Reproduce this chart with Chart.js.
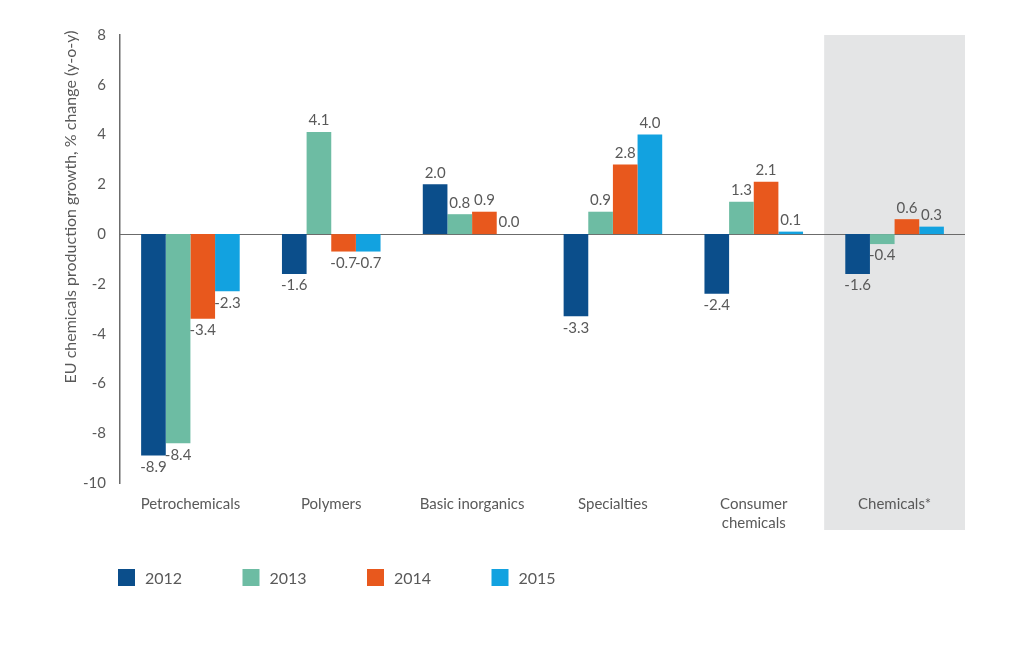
<!DOCTYPE html>
<html>
<head>
<meta charset="utf-8">
<script src="https://cdn.jsdelivr.net/npm/chart.js@4"></script>
<style>
  html, body { margin: 0; padding: 0; background: #fff; }
  #wrap { width: 1024px; height: 661px; }
</style>
</head>
<body>
<div id="wrap"><canvas id="chart" width="1024" height="661"></canvas></div>
<script>
// Chart data
const categories = ['Petrochemicals', 'Polymers', 'Basic inorganics', 'Specialties', ['Consumer', 'chemicals'], 'Chemicals*'];
const years = ['2012', '2013', '2014', '2015'];
const values2012 = [-8.9, -1.6, 2.0, -3.3, -2.4, -1.6];
const values2013 = [-8.4, 4.1, 0.8, 0.9, 1.3, -0.4];
const values2014 = [-3.4, -0.7, 0.9, 2.8, 2.1, 0.6];
const values2015 = [-2.3, -0.7, 0.0, 4.0, 0.1, 0.3];
const yTicks = [-10, -8, -6, -4, -2, 0, 2, 4, 6, 8];
const colors = ['#0b4e8b', '#6dbca3', '#e8581d', '#12a2e0'];

const FONT = 'Lato, "Open Sans", sans-serif';
const TEXT = '#595959';

// Grey band behind the last category (drawn before the axes)
const bandPlugin = {
  id: 'band',
  beforeDraw(chart) {
    const { ctx, chartArea, scales } = chart;
    const x = scales.x;
    const step = x.getPixelForValue(1) - x.getPixelForValue(0);
    const left = x.getPixelForValue(categories.length - 1) - step / 2;
    ctx.save();
    ctx.fillStyle = '#e4e5e6';
    ctx.fillRect(left, chartArea.top, chartArea.right - left, 530 - chartArea.top);
    ctx.restore();
  }
};

// Zero line
const zeroLinePlugin = {
  id: 'zeroLine',
  beforeDatasetsDraw(chart) {
    const { ctx, chartArea, scales } = chart;
    const y = Math.round(scales.y.getPixelForValue(0)) + 0.5;
    ctx.save();
    ctx.strokeStyle = '#6b6b6b';
    ctx.lineWidth = 1.2;
    ctx.beginPath();
    ctx.moveTo(chartArea.left, y);
    ctx.lineTo(chartArea.right, y);
    ctx.stroke();
    ctx.restore();
  }
};

// Value labels above / below each bar
const valueLabelPlugin = {
  id: 'valueLabels',
  afterDatasetsDraw(chart) {
    const { ctx } = chart;
    ctx.save();
    ctx.font = '15px ' + FONT;
    ctx.fillStyle = TEXT;
    ctx.textAlign = 'center';
    chart.data.datasets.forEach((ds, i) => {
      chart.getDatasetMeta(i).data.forEach((bar, j) => {
        const v = ds.data[j];
        if (v < 0) {
          ctx.textBaseline = 'top';
          ctx.fillText(v.toFixed(1), bar.x, bar.y + 4);
        } else {
          ctx.textBaseline = 'bottom';
          ctx.fillText(v.toFixed(1), bar.x, bar.y - 4);
        }
      });
    });
    ctx.restore();
  }
};

// Y axis title and legend
const extrasPlugin = {
  id: 'extras',
  afterDraw(chart) {
    const { ctx } = chart;
    ctx.save();
    ctx.font = '16px ' + FONT;
    ctx.fillStyle = TEXT;
    ctx.translate(71, 207);
    ctx.rotate(-Math.PI / 2);
    ctx.textAlign = 'center';
    ctx.textBaseline = 'middle';
    ctx.fillText('EU chemicals production growth, % change (y-o-y)', 0, 0);
    ctx.restore();

    ctx.save();
    ctx.font = '16px ' + FONT;
    ctx.textBaseline = 'middle';
    years.forEach((yr, i) => {
      const x0 = 118 + i * 124.5;
      ctx.fillStyle = colors[i];
      ctx.fillRect(x0, 569, 17, 17);
      ctx.fillStyle = TEXT;
      ctx.fillText(yr, x0 + 27, 579);
    });
    ctx.restore();
  }
};

const seriesValues = [values2012, values2013, values2014, values2015];

new Chart(document.getElementById('chart'), {
  type: 'bar',
  data: {
    labels: categories,
    datasets: years.map((yr, i) => ({
      label: yr,
      data: seriesValues[i],
      backgroundColor: colors[i],
      borderWidth: 0,
      categoryPercentage: 0.7,
      barPercentage: 1.0
    }))
  },
  options: {
    responsive: false,
    animation: false,
    layout: { padding: { top: 35, right: 59, bottom: 128, left: 0 } },
    plugins: {
      legend: { display: false },
      tooltip: { enabled: false }
    },
    scales: {
      x: {
        grid: { display: false, drawTicks: false },
        border: { display: false },
        ticks: {
          color: TEXT,
          font: { family: FONT, size: 15, lineHeight: 1.3 },
          padding: 11,
          maxRotation: 0,
          autoSkip: false
        },
        afterFit(scale) { scale.height = 50; }
      },
      y: {
        min: -10,
        max: 8,
        afterBuildTicks(scale) {
          scale.ticks = yTicks.map(v => ({ value: v }));
        },
        grid: { display: false, drawTicks: false },
        border: { display: true, color: '#6b6b6b', width: 1.5 },
        ticks: {
          color: TEXT,
          font: { family: FONT, size: 15 },
          padding: 14
        },
        afterFit(scale) { scale.width = 120; }
      }
    }
  },
  plugins: [bandPlugin, zeroLinePlugin, valueLabelPlugin, extrasPlugin]
});
</script>
</body>
</html>
